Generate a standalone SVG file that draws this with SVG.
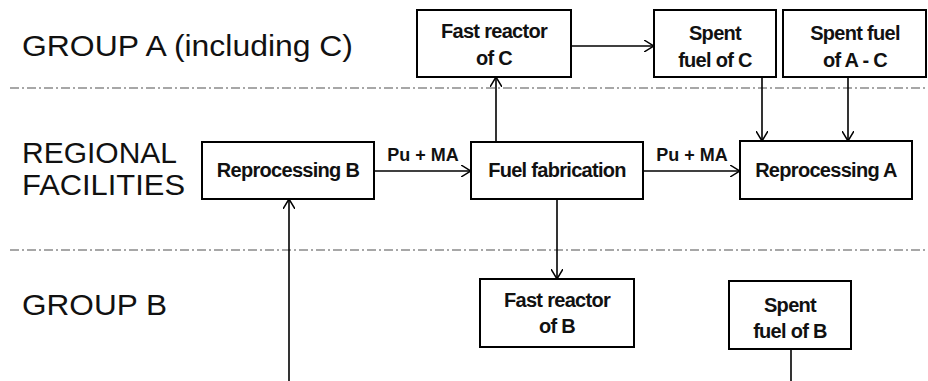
<svg xmlns="http://www.w3.org/2000/svg" width="928" height="381" viewBox="0 0 928 381">
<defs>
<style>
.sec{font-family:"Liberation Sans",Arial,sans-serif;font-size:30px;fill:#111;}
.box rect{fill:#fff;stroke:#000;stroke-width:2;}
.box text,.lbl{font-family:"Liberation Sans",Arial,sans-serif;font-size:20px;font-weight:bold;fill:#111;text-anchor:middle;letter-spacing:-0.7px;}
.lbl{font-size:18px;letter-spacing:0;}
.sep{stroke:#8a8a8a;stroke-width:1.5;stroke-dasharray:9 3 2 3;fill:none;}
.conn path{stroke:#000;stroke-width:1.6;fill:none;}
</style>
<marker id="arr" viewBox="0 0 10 12" refX="10" refY="6" markerWidth="10" markerHeight="12" markerUnits="userSpaceOnUse" orient="auto">
<path d="M0,0 L10,6 L0,12" fill="none" stroke="#000" stroke-width="1.5"/>
</marker>
</defs>
<rect width="928" height="381" fill="#fff"/>
<g id="separators">
<line class="sep" x1="10" y1="88" x2="928" y2="88"/>
<line class="sep" x1="10" y1="250" x2="928" y2="250"/>
</g>
<g id="section-labels">
<text class="sec" x="22" y="56" textLength="331" lengthAdjust="spacingAndGlyphs">GROUP A (including  C)</text>
<text class="sec" x="22" y="163" textLength="155" lengthAdjust="spacingAndGlyphs">REGIONAL</text>
<text class="sec" x="22" y="195" textLength="163" lengthAdjust="spacingAndGlyphs">FACILITIES</text>
<text class="sec" x="22" y="315" textLength="145" lengthAdjust="spacingAndGlyphs">GROUP B</text>
</g>
<g id="connectors" class="conn">
<path d="M374,171 L471,171" marker-end="url(#arr)"/>
<path d="M643,171 L740,171" marker-end="url(#arr)"/>
<path d="M496,142 L496,77" marker-end="url(#arr)"/>
<path d="M571,46 L654,46" marker-end="url(#arr)"/>
<path d="M762,77 L762,141" marker-end="url(#arr)"/>
<path d="M848,77 L848,141" marker-end="url(#arr)"/>
<path d="M557,199 L557,279" marker-end="url(#arr)"/>
<path d="M289,381 L289,199" marker-end="url(#arr)"/>
<path d="M791,349 L791,381"/>
<text class="lbl" x="423" y="161">Pu + MA</text>
<text class="lbl" x="692" y="161">Pu + MA</text>
</g>
<g id="fast-reactor-c" class="box">
<rect x="417" y="10" width="154" height="67"/>
<text x="494" y="38">Fast reactor</text>
<text x="494" y="65">of C</text>
</g>
<g id="spent-fuel-c" class="box">
<rect x="654" y="10" width="122" height="67"/>
<text x="715" y="40">Spent</text>
<text x="715" y="67">fuel of C</text>
</g>
<g id="spent-fuel-a-c" class="box">
<rect x="783" y="10" width="143" height="67"/>
<text x="855" y="40">Spent fuel</text>
<text x="855" y="67">of A - C</text>
</g>
<g id="reprocessing-b" class="box">
<rect x="202" y="142" width="172" height="57"/>
<text x="288" y="177">Reprocessing B</text>
</g>
<g id="fuel-fabrication" class="box">
<rect x="471" y="142" width="172" height="57"/>
<text x="557" y="177">Fuel fabrication</text>
</g>
<g id="reprocessing-a" class="box">
<rect x="740" y="141" width="172" height="58"/>
<text x="826" y="177">Reprocessing A</text>
</g>
<g id="fast-reactor-b" class="box">
<rect x="480" y="279" width="154" height="68"/>
<text x="557" y="307">Fast reactor</text>
<text x="557" y="333">of B</text>
</g>
<g id="spent-fuel-b" class="box">
<rect x="729" y="281" width="122" height="68"/>
<text x="790" y="312">Spent</text>
<text x="790" y="338">fuel of B</text>
</g>
</svg>
